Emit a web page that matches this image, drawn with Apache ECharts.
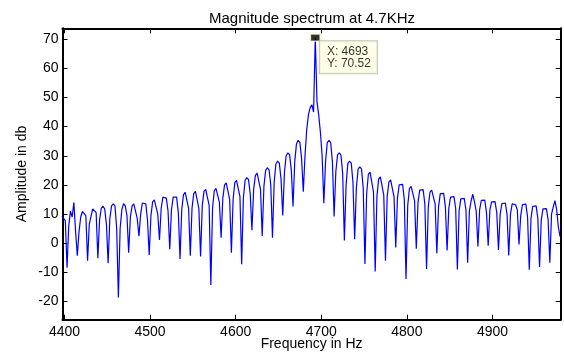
<!DOCTYPE html>
<html>
<head>
<meta charset="utf-8">
<script src="https://cdn.jsdelivr.net/npm/echarts@6/dist/echarts.min.js"></script>
<style>
  html, body { margin: 0; padding: 0; background: #fff; }
  #chart { width: 564px; height: 352px; }
</style>
</head>
<body>
<div id="chart"></div>
<script>
// ---- data ----
const xTicks = [4400, 4500, 4600, 4700, 4800, 4900];
const yTicks = [-20, -10, 0, 10, 20, 30, 40, 50, 60, 70];
// FFT bin grid: first bin and bin spacing (Hz)
const freqStart = 4397;
const freqStep = 2;
// amplitude (dB) for each bin, read lobe by lobe (dip, rise, peak, fall)
const amplitudeDb = [
  9.2, 8.8, 7.8,
  -8.4, 6, 11, 9, 14, 4,
  -4.3, 4, 9, 10.9, 11.2, 9.4,
  -6, 6.6, 6, 11.8, 12.2, 10.5,
  -5.1, 8, 12, 12.7, 11.8, 6.5,
  -6.8, 8.5, 12.8, 13.5, 12.8, 5,
  -18.6, 5, 11.5, 13.6, 12.8, 9.5,
  -3.2, 9, 12.8, 13.5, 13, 8.5,
  2.4, 10, 13.8, 14.2, 13.5, 8,
  -4, 9.5, 14.2, 14.9, 14.5, 10,
  1.1, 12, 15.8, 16.2, 15.5, 11,
  -2, 11.5, 15.8, 16.4, 15.8, 10.5,
  -5.4, 11.5, 16.6, 17.5, 17, 12,
  -4.3, 12, 17, 17.8, 17.3, 12,
  -4.5, 13, 17.8, 18.5, 18, 13,
  -14.3, 12, 18, 18.8, 18.5, 14,
  1.9, 15.5, 20, 20.7, 20.2, 15,
  -3.2, 15, 20.8, 21.6, 21, 16,
  -7.2, 15.5, 21.5, 22.5, 21.8, 17,
  4.5, 18.5, 23.2, 24.1, 23.5, 18.5,
  2.5, 19.5, 25, 25.9, 25.2, 20,
  1.9, 21, 27.2, 28.2, 27.5, 22,
  9.5, 24.5, 30, 31, 30.3, 25,
  12.6, 28, 34, 35.3, 34.6, 29,
  17.7, 30, 39, 44, 46.5, 47.5, 45, 70.52, 48.5, 44, 38, 30,
  13.7, 28, 34.5, 35.3, 34.5, 28,
  9.2, 24.5, 30.3, 31, 30.2, 24,
  1, 20, 27.3, 28.2, 27.5, 21,
  1.4, 19, 25.4, 26.2, 25.5, 19,
  -7.1, 17, 23.6, 24.4, 23.8, 17.5,
  -9.7, 16, 22, 22.8, 22.2, 16.5,
  -6, 16, 21, 21.7, 21.2, 16,
  -1.4, 15.5, 20, 20.6, 20.2, 15,
  -12.2, 13, 18.8, 19.5, 19.1, 14.5,
  -1.9, 14, 18.2, 18.8, 18.4, 13.5,
  -8.8, 12.5, 17.5, 18.2, 17.8, 13.5,
  -3.4, 12.5, 17, 17.6, 17.1, 12.5,
  -2.5, 12, 15.8, 16.4, 16, 12,
  -9, 11, 15.2, 15.8, 15.4, 11.5,
  -6.7, 11, 14.5, 16.8, 14.2, 11,
  -1.1, 11.5, 14.7, 15.1, 14.8, 10.5,
  -0.8, 11.5, 14.2, 14.7, 14.3, 10.5,
  -2.3, 10, 13.6, 14.1, 13.8, 10,
  -4.2, 10, 13.5, 14, 13.2, 11.5,
  -0.4, 9.5, 13.3, 13.8, 13.4, 9,
  -9.1, 8.5, 12.7, 13.2, 12.8, 8.5,
  -8.1, 8, 11.8, 12.1, 11.9, 8,
  -6.7, 10, 12.5, 14.6, 11.5, 5.5,
  2.3
];
const peakTip = [4693, 70.52];

// ---- chart ----
const font = "'Liberation Sans', Arial, Helvetica, sans-serif";
const spectrum = amplitudeDb.map((v, i) => [freqStart + i * freqStep, v]);
const xMin = 4397.7, xMax = 4979.7, yMin = -26.2, yMax = 73.7;

const axisLineStyle = { show: true, onZero: false, lineStyle: { color: '#000', width: 2 } };
const plain = (v) => String(v);
const chart = echarts.init(document.getElementById('chart'), null, { renderer: 'canvas' });
chart.setOption({
  animation: false,
  backgroundColor: '#fff',
  title: {
    text: 'Magnitude spectrum at 4.7KHz',
    left: 307, top: 6, textAlign: 'center',
    textStyle: { fontFamily: font, fontSize: 15, fontWeight: 'normal', color: '#000' }
  },
  grid: { left: 62.5, right: 3.3, top: 28.3, bottom: 32.3, containLabel: false, outerBoundsMode: 'none' },
  xAxis: [{
    type: 'value', min: xMin, max: xMax, position: 'bottom',
    axisLine: axisLineStyle,
    axisTick: { show: true, inside: true, length: 5, customValues: xTicks, lineStyle: { color: '#000', width: 1 } },
    axisLabel: { customValues: xTicks, formatter: plain, fontFamily: font, fontSize: 14, color: '#000', margin: 5 },
    splitLine: { show: false },
    name: 'Frequency in Hz', nameLocation: 'middle', nameGap: 17, nameMoveOverlap: false,
    nameTextStyle: { fontFamily: font, fontSize: 14, color: '#000' }
  }, {
    type: 'value', min: xMin, max: xMax, position: 'top',
    axisLine: axisLineStyle,
    axisTick: { show: true, inside: true, length: 5, customValues: xTicks, lineStyle: { color: '#000', width: 1 } },
    axisLabel: { show: false },
    splitLine: { show: false }
  }],
  yAxis: [{
    type: 'value', min: yMin, max: yMax, position: 'left',
    axisLine: axisLineStyle,
    axisTick: { show: true, inside: true, length: 5, customValues: yTicks, lineStyle: { color: '#000', width: 1 } },
    axisLabel: { customValues: yTicks, formatter: plain, fontFamily: font, fontSize: 14, color: '#000', margin: 4 },
    splitLine: { show: false },
    name: 'Amplitude in db', nameLocation: 'middle', nameGap: 33, nameRotate: 90, nameMoveOverlap: false,
    nameTextStyle: { fontFamily: font, fontSize: 14, color: '#000' }
  }, {
    type: 'value', min: yMin, max: yMax, position: 'right',
    axisLine: axisLineStyle,
    axisTick: { show: true, inside: true, length: 5, customValues: yTicks, lineStyle: { color: '#000', width: 1 } },
    axisLabel: { show: false },
    splitLine: { show: false }
  }],
  series: [{
    type: 'line',
    xAxisIndex: 0, yAxisIndex: 0,
    data: spectrum,
    showSymbol: false,
    symbol: 'none',
    lineStyle: { color: '#0000FF', width: 1.2 },
    clip: true,
    z: 2
  }, {
    type: 'scatter',
    xAxisIndex: 0, yAxisIndex: 0,
    data: [peakTip],
    symbol: 'rect',
    symbolSize: [10, 7],
    itemStyle: { color: '#000', borderColor: '#FFFFC8', borderWidth: 1.5 },
    label: {
      show: true,
      position: [10.5, 7.8],
      formatter: () => 'X: ' + peakTip[0] + '\nY: ' + peakTip[1].toFixed(2),
      fontFamily: font, fontSize: 12, lineHeight: 12, color: '#000',
      backgroundColor: '#FFFFE1', borderColor: '#B4B4A8', borderWidth: 1,
      padding: [4, 6, 4, 7], align: 'left', verticalAlign: 'top'
    },
    z: 5
  }]
});
</script>
</body>
</html>
